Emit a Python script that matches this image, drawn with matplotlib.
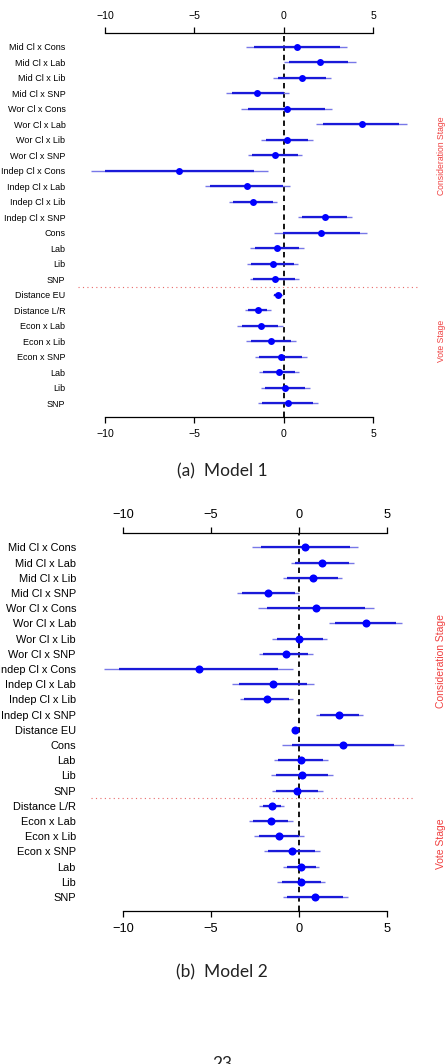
import numpy as np
import matplotlib
matplotlib.use("Agg")
import matplotlib.pyplot as plt
import matplotlib.transforms as mtrans

plt.rcParams["font.family"] = ["Liberation Sans", "DejaVu Sans"]

# ---- Model 1 ----
m1_labels = ["Mid Cl x Cons", "Mid Cl x Lab", "Mid Cl x Lib", "Mid Cl x SNP",
             "Wor Cl x Cons", "Wor Cl x Lab", "Wor Cl x Lib", "Wor Cl x SNP",
             "Indep Cl x Cons", "Indep Cl x Lab", "Indep Cl x Lib", "Indep Cl x SNP",
             "Cons", "Lab", "Lib", "SNP",
             "Distance EU", "Distance L/R", "Econ x Lab", "Econ x Lib", "Econ x SNP",
             "Lab", "Lib", "SNP"]
m1_est = [0.73, 2.00, 1.03, -1.47, 0.17, 4.35, 0.19, -0.47,
          -5.84, -2.03, -1.70, 2.29, 2.07, -0.37, -0.62, -0.50,
          -0.34, -1.44, -1.29, -0.73, -0.15, -0.26, 0.09, 0.22]
m1_lo95 = [-2.11, 0.00, -0.58, -3.23, -2.39, 1.83, -1.25, -1.98,
           -10.78, -4.38, -3.06, 0.78, -0.54, -1.87, -2.03, -1.90,
           -0.58, -2.15, -2.61, -2.11, -1.62, -1.36, -1.27, -1.46]
m1_hi95 = [3.53, 4.03, 2.63, 0.28, 2.71, 6.87, 1.62, 1.04,
           -0.90, 0.35, -0.35, 3.81, 4.68, 1.14, 0.78, 0.88,
           -0.06, -0.73, -0.02, 0.67, 1.31, 0.86, 1.46, 1.90]
m1_lo90 = [-1.66, 0.28, -0.30, -2.91, -1.98, 2.22, -1.00, -1.75,
           -10.00, -4.12, -2.82, 1.00, -0.06, -1.60, -1.85, -1.70,
           -0.52, -1.98, -2.35, -1.85, -1.38, -1.18, -1.04, -1.19]
m1_hi90 = [3.12, 3.62, 2.37, 0.00, 2.31, 6.44, 1.38, 0.78,
           -1.66, -0.02, -0.62, 3.53, 4.27, 0.88, 0.58, 0.63,
           -0.09, -0.91, -0.30, 0.43, 1.01, 0.65, 1.19, 1.62]

# ---- Model 2 ----
m2_labels = ["Mid Cl x Cons", "Mid Cl x Lab", "Mid Cl x Lib", "Mid Cl x SNP",
             "Wor Cl x Cons", "Wor Cl x Lab", "Wor Cl x Lib", "Wor Cl x SNP",
             "Indep Cl x Cons", "Indep Cl x Lab", "Indep Cl x Lib", "Indep Cl x SNP",
             "Distance EU", "Cons", "Lab", "Lib", "SNP",
             "Distance L/R", "Econ x Lab", "Econ x Lib", "Econ x SNP",
             "Lab", "Lib", "SNP"]
m2_est = [0.34, 1.33, 0.78, -1.76, 0.97, 3.79, 0.02, -0.76,
          -5.70, -1.46, -1.82, 2.29, -0.23, 2.48, 0.09, 0.17, -0.11,
          -1.53, -1.61, -1.14, -0.42, 0.13, 0.11, 0.91]
m2_lo95 = [-2.67, -0.47, -0.91, -3.52, -2.31, 1.72, -1.53, -2.27,
           -11.08, -3.79, -3.35, 0.95, -0.38, -0.95, -1.44, -1.57, -1.53,
           -2.25, -2.86, -2.54, -1.99, -0.89, -1.23, -0.91]
m2_hi95 = [3.37, 3.14, 2.46, 0.00, 4.24, 5.83, 1.61, 0.78,
           -0.32, 0.83, -0.32, 3.66, -0.08, 5.95, 1.63, 1.91, 1.36,
           -0.83, -0.36, 0.27, 1.17, 1.16, 1.48, 2.77]
m2_lo90 = [-2.18, -0.23, -0.66, -3.26, -1.84, 2.06, -1.27, -2.03,
           -10.23, -3.43, -3.11, 1.19, -0.34, -0.42, -1.17, -1.31, -1.31,
           -2.06, -2.59, -2.27, -1.74, -0.70, -0.98, -0.66]
m2_hi90 = [2.90, 2.86, 2.20, -0.25, 3.75, 5.51, 1.34, 0.53,
           -1.17, 0.47, -0.59, 3.41, -0.12, 5.40, 1.38, 1.65, 1.10,
           -1.02, -0.63, 0.00, 0.89, 0.97, 1.23, 2.48]

W, H = 446, 1064
fig = plt.figure(figsize=(W / 100, H / 100), dpi=100)


def px_axes(left, top, right, bottom):
    return fig.add_axes([left / W, 1 - bottom / H, (right - left) / W, (bottom - top) / H])


def coef_panel(ax, labels, est, lo95, hi95, lo90, hi90, xlim, ylim, split,
               lab_fs, tick_fs, ypad, ms, stage_y):
    n = len(labels)
    y = np.arange(n)
    ax.hlines(y, lo95, hi95, color="#7878e8", lw=1.0, zorder=2)
    ax.hlines(y, lo90, hi90, color="#1a1ad8", lw=1.6, zorder=3)
    ax.plot(est, y, "o", color="#0000ff", ms=ms, mew=0, zorder=4)
    ax.axvline(0, color="black", ls=(0, (3, 2.2)), lw=1.3, zorder=1)
    ax.axhline(split, color="#e86a6a", ls=(0, (1, 3)), lw=0.8, zorder=1)
    ax.set_xlim(*xlim)
    ax.set_ylim(*ylim)
    ax.set_yticks(y)
    ax.set_yticklabels(labels, fontsize=lab_fs)
    ax.tick_params(axis="y", length=0, pad=ypad)
    ax.set_xticks([-10, -5, 0, 5])
    ax.tick_params(axis="x", top=True, labeltop=True, bottom=True, labelbottom=True,
                   direction="out", length=4.5, width=0.9, labelsize=tick_fs, pad=4)
    for s in ["left", "right"]:
        ax.spines[s].set_visible(False)
    for s in ["top", "bottom"]:
        ax.spines[s].set_bounds(-10, 5)
        ax.spines[s].set_linewidth(0.9)
    ax.patch.set_alpha(0)
    tr = mtrans.blended_transform_factory(fig.transFigure, ax.transData)
    ax.text(441 / W, stage_y[0], "Consideration Stage", transform=tr, rotation=90,
            color="#f04040", fontsize=lab_fs * 0.95, ha="center", va="center")
    ax.text(441 / W, stage_y[1], "Vote Stage", transform=tr, rotation=90,
            color="#f04040", fontsize=lab_fs * 0.95, ha="center", va="center")


ax1 = px_axes(78, 32.7, 418, 417.3)
coef_panel(ax1, m1_labels, m1_est, m1_lo95, m1_hi95, m1_lo90, m1_hi90,
           (-11.51, 7.51), (23.9, -0.92), 15.5, 6.5, 7.6, 9.0, 5.0, (7.0, 19.0))

ax2 = px_axes(91, 532.7, 415, 911)
coef_panel(ax2, m2_labels, m2_est, m2_lo95, m2_hi95, m2_lo90, m2_hi90,
           (-11.82, 6.59), (23.92, -0.96), 16.5, 7.9, 9.2, 10.8, 5.8, (7.5, 19.5))

cap = dict(ha="center", va="center", fontsize=12.5, color="#222222",
           family=["Lato", "DejaVu Sans"])
fig.text(222 / W, 1 - 471.7 / H, "(a)  Model 1", **cap)
fig.text(222 / W, 1 - 972.3 / H, "(b)  Model 2", **cap)
fig.text(222 / W, 1 - 1056 / H, "23", ha="center", va="top", fontsize=12.5,
         color="#222222", family=["Lato", "DejaVu Sans"])

fig.savefig("out.png", dpi=100)
